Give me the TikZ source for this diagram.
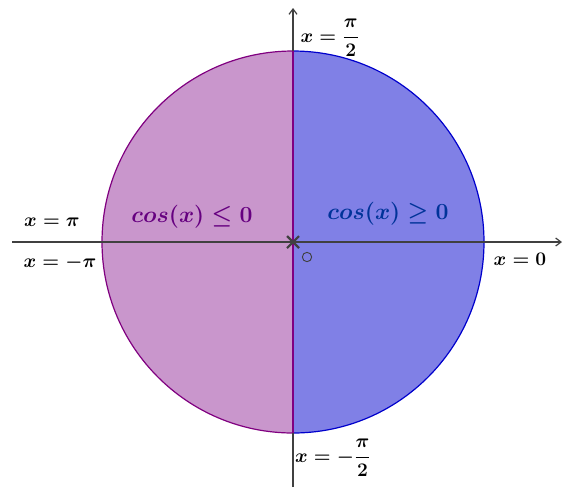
\documentclass[tikz,border=0pt]{standalone}
\usepackage{amsmath,bm}
\usetikzlibrary{arrows.meta}
\definecolor{lfill}{RGB}{201,150,204}
\definecolor{rfill}{RGB}{128,128,230}
\definecolor{ldraw}{RGB}{128,0,128}
\definecolor{rdraw}{RGB}{0,0,204}
\definecolor{ltext}{RGB}{102,0,128}
\definecolor{rtext}{RGB}{0,51,153}
\definecolor{axis}{RGB}{64,64,64}
\tikzset{
  lbl/.style={font=\fontsize{13.7}{16}\selectfont\boldmath, inner sep=1pt},
  big/.style={font=\fontsize{17}{20}\selectfont\boldmath, inner sep=1pt},
  ax/.style={draw=axis, line width=0.9pt, -{Straight Barb[length=4pt,width=6pt]}}
}
\begin{document}
\begin{tikzpicture}[x=0.75pt,y=-0.75pt]
\useasboundingbox (0,0) rectangle (563,487);
\coordinate (O) at (293,242);
\begin{scope}
\clip (0,0) rectangle (293,487);
\fill[lfill] (O) circle[radius=143.25pt];
\draw[ldraw, line width=0.9pt] (O) circle[radius=143.25pt];
\end{scope}
\begin{scope}
\clip (293,0) rectangle (563,487);
\fill[rfill] (O) circle[radius=143.25pt];
\draw[rdraw, line width=0.9pt] (O) circle[radius=143.25pt];
\end{scope}
\coordinate (L) at (12,242);
\coordinate (R) at (562,242);
\coordinate (B) at (293,487);
\coordinate (T) at (293,8);
\draw[ax] (L) -- (R);
\draw[ax] (B) -- (T);
\draw[ldraw, line width=0.9pt] (293,51) -- (293,433);
\draw[axis, line width=1.6pt] (287,236) -- (299,248) (287,248) -- (299,236);
\node[draw=axis, circle, line width=0.7pt, minimum size=7pt, inner sep=0pt] (o) at (307,257) {};
\node[lbl] (t) at (330,38) {$x=\dfrac{\pi}{2}$};
\node[lbl] (p) at (52,222) {$x=\pi$};
\node[lbl] (mp) at (60,263) {$x=-\pi$};
\node[lbl] (z) at (520,259) {$x=0$};
\node[lbl] (b) at (333,458) {$x=-\dfrac{\pi}{2}$};
\node[big, text=ltext] (lt) at (192,217) {$cos(x)\leq 0$};
\node[big, text=rtext] (rt) at (388,214) {$cos(x)\geq 0$};
\end{tikzpicture}
\end{document}
